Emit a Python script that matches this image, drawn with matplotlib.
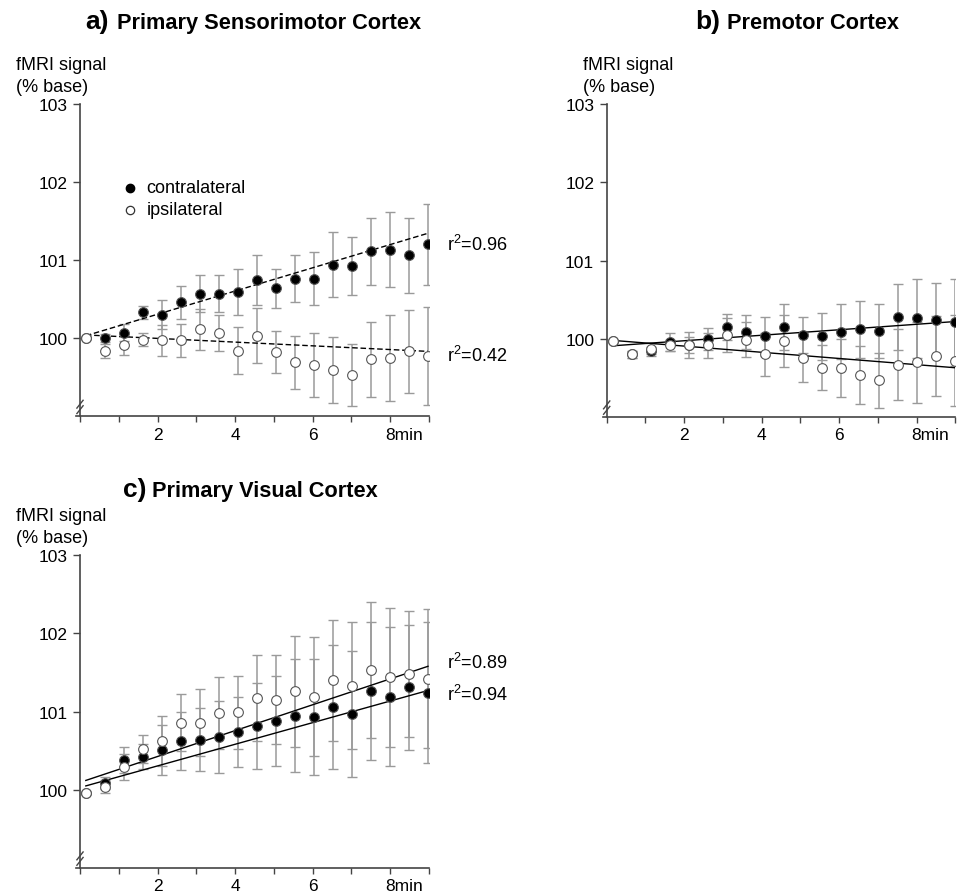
import numpy as np
import matplotlib
matplotlib.use('Agg')
import matplotlib.pyplot as plt
from matplotlib.transforms import ScaledTranslation

plt.rcParams['font.family'] = ['Liberation Sans', 'DejaVu Sans']
plt.rcParams['mathtext.fontset'] = 'custom'
plt.rcParams['mathtext.rm'] = 'Liberation Sans'

# time of each sample (min)
t = [0.15, 0.65, 1.14, 1.63, 2.12, 2.61, 3.10, 3.59, 4.08, 4.57,
     5.06, 5.55, 6.04, 6.53, 7.02, 7.51, 8.00, 8.49, 8.98]

# a) primary sensorimotor cortex
a_contra = [100.00, 100.00, 100.07, 100.33, 100.30, 100.46, 100.57, 100.57, 100.59, 100.74,
            100.64, 100.76, 100.76, 100.94, 100.92, 101.11, 101.13, 101.06, 101.20]
a_contra_err = [0.0, 0.05, 0.11, 0.08, 0.19, 0.21, 0.24, 0.24, 0.29, 0.32,
                0.25, 0.30, 0.34, 0.42, 0.37, 0.43, 0.48, 0.48, 0.52]
a_ipsi = [100.00, 99.84, 99.91, 99.98, 99.97, 99.97, 100.11, 100.06, 99.84, 100.03,
          99.82, 99.69, 99.66, 99.59, 99.53, 99.73, 99.75, 99.83, 99.77]
a_ipsi_err = [0.0, 0.09, 0.12, 0.08, 0.20, 0.21, 0.26, 0.23, 0.30, 0.35,
              0.27, 0.34, 0.41, 0.42, 0.40, 0.48, 0.55, 0.53, 0.63]

# b) premotor cortex
b_contra = [99.97, 99.80, 99.84, 99.96, 99.92, 100.00, 100.15, 100.09, 100.03, 100.15,
            100.05, 100.03, 100.09, 100.12, 100.10, 100.28, 100.26, 100.24, 100.21]
b_contra_err = [0.0, 0.05, 0.06, 0.12, 0.17, 0.14, 0.17, 0.22, 0.25, 0.29,
                0.23, 0.30, 0.35, 0.36, 0.34, 0.42, 0.50, 0.47, 0.56]
b_ipsi = [99.97, 99.80, 99.87, 99.92, 99.92, 99.92, 100.05, 99.99, 99.80, 99.97,
          99.76, 99.63, 99.63, 99.54, 99.47, 99.67, 99.70, 99.78, 99.72]
b_ipsi_err = [0.0, 0.05, 0.07, 0.07, 0.10, 0.16, 0.22, 0.22, 0.27, 0.33,
              0.31, 0.29, 0.37, 0.37, 0.35, 0.45, 0.52, 0.51, 0.58]

# c) primary visual cortex
c_contra = [99.96, 100.09, 100.38, 100.42, 100.51, 100.62, 100.64, 100.67, 100.74, 100.82,
            100.88, 100.95, 100.93, 101.06, 100.97, 101.26, 101.19, 101.31, 101.24]
c_contra_err = [0.0, 0.08, 0.17, 0.16, 0.32, 0.37, 0.40, 0.46, 0.45, 0.55,
                0.58, 0.72, 0.74, 0.79, 0.81, 0.88, 0.89, 0.80, 0.90]
c_ipsi = [99.96, 100.04, 100.29, 100.52, 100.63, 100.86, 100.86, 100.98, 100.99, 101.17,
          101.15, 101.26, 101.19, 101.40, 101.33, 101.53, 101.44, 101.48, 101.42]
c_ipsi_err = [0.0, 0.08, 0.17, 0.18, 0.32, 0.36, 0.43, 0.46, 0.47, 0.55,
              0.57, 0.71, 0.76, 0.77, 0.81, 0.87, 0.89, 0.81, 0.89]

# regression lines (intercept, slope)
a_fit_contra = (100.008, 0.1484)
a_fit_ipsi = (100.044, -0.0238)
b_fit_contra = (99.905, 0.0351)
b_fit_ipsi = (99.986, -0.0396)
c_fit_contra = (100.029, 0.1382)
c_fit_ipsi = (100.095, 0.1653)

a_r2 = [('0.96', 101.20), ('0.42', 99.78)]
c_r2 = [('0.89', 101.64), ('0.94', 101.22)]

x_ticklabels = ['', '', '2', '', '4', '', '6', '', '8min', '']

W, H = 965, 895
fig = plt.figure(figsize=(W / 100, H / 100), dpi=100)

def px(x, y):
    return x / W, 1 - y / H

def panel(x0, y0, contra, contra_err, ipsi, ipsi_err, fits, ls, r2):
    # x0 = pixel x of y-axis, y0 = pixel y of x-axis
    scale_x = 38.75
    scale_y = 78.2
    left = (x0 - 0.1 * scale_x) / W
    width = 9.1 * scale_x / W
    bottom = 1 - y0 / H
    height = 4 * scale_y / H
    ax = fig.add_axes([left, bottom, width, height])
    ax.set_xlim(-0.1, 9.0)
    ax.set_ylim(99, 103)
    for s in ['top', 'right']:
        ax.spines[s].set_visible(False)
    ax.spines['left'].set_position(('data', 0))
    ax.spines['left'].set_bounds(99, 103)
    for s in ['left', 'bottom']:
        ax.spines[s].set_color('#444444')
        ax.spines[s].set_linewidth(1.2)
    ax.set_yticks([100, 101, 102, 103])
    ax.set_yticklabels(['100', '101', '102', '103'])
    ax.set_xticks(range(0, 10))
    ax.set_xticklabels(x_ticklabels)
    ax.tick_params(axis='y', direction='out', length=5, width=1, color='#444444',
                   labelsize=12.5, pad=4)
    ax.tick_params(axis='x', direction='out', length=4, width=1, color='#444444',
                   labelsize=12.5, pad=3.5)
    # "8min": the 8 sits on its tick
    lab = ax.get_xticklabels()[8]
    lab.set_ha('left')
    lab.set_transform(lab.get_transform() + ScaledTranslation(-3.6 / 72, 0, fig.dpi_scale_trans))
    ax.patch.set_visible(False)

    ecol = '#9a9a9a'
    ax.errorbar(t, ipsi, yerr=ipsi_err, fmt='none', ecolor=ecol, elinewidth=1.1,
                capsize=3.8, capthick=1.0, zorder=2)
    ax.errorbar(t, contra, yerr=contra_err, fmt='none', ecolor=ecol, elinewidth=1.1,
                capsize=3.8, capthick=1.0, zorder=2)
    tt = np.array([t[0], t[-1]])
    for b0, b1 in fits:
        ax.plot(tt, b0 + b1 * tt, color='black', lw=1.0, ls=ls, zorder=3)
    ax.plot(t, contra, 'o', ms=7, mfc='black', mec='#555555', mew=0.8, zorder=4)
    ax.plot(t, ipsi, 'o', ms=7, mfc='white', mec='#555555', mew=0.8, zorder=5)

    for val, yv in r2:
        ax.text(9.48, yv, r'$\mathregular{r^2}$=' + val, fontsize=13, ha='left',
                va='center', clip_on=False)

    # axis break
    for dy in [-0.035, 0.035]:
        ax.plot([-0.08, 0.08], [99.07 + dy, 99.17 + dy], color='#444444', lw=1.0,
                clip_on=False, zorder=6)
    return ax

ax_a = panel(80, 417.3, a_contra, a_contra_err, a_ipsi, a_ipsi_err,
             [a_fit_contra, a_fit_ipsi], (0, (4, 2)), a_r2)
ax_b = panel(606.7, 418, b_contra, b_contra_err, b_ipsi, b_ipsi_err,
             [b_fit_contra, b_fit_ipsi], '-', [])
ax_c = panel(80, 869, c_contra, c_contra_err, c_ipsi, c_ipsi_err,
             [c_fit_contra, c_fit_ipsi], '-', c_r2)

# y-axis labels
for x0, dy in [(16, 0), (583, 0), (16, 451)]:
    fig.text(*px(x0, 70 + dy), 'fMRI signal', fontsize=13, va='baseline')
    fig.text(*px(x0, 92 + dy), '(% base)', fontsize=13, va='baseline')

# titles
for xr, xl, yb, letter, name in [(109, 117, 29, 'a)', 'Primary Sensorimotor Cortex'),
                                 (720, 727, 29, 'b)', 'Premotor Cortex'),
                                 (147, 152, 497, 'c)', 'Primary Visual Cortex')]:
    fig.text(*px(xr, yb), letter, fontsize=19, fontweight='bold', ha='right', va='baseline')
    fig.text(*px(xl, yb), name, fontsize=15.7, fontweight='bold', ha='left', va='baseline')

# legend in panel a
ax_a.plot([1.3], [101.92], 'o', ms=6, mfc='black', mec='black', clip_on=False)
ax_a.plot([1.3], [101.64], 'o', ms=6, mfc='white', mec='#333333', mew=0.9, clip_on=False)
ax_a.text(1.72, 101.92, 'contralateral', fontsize=13, va='center')
ax_a.text(1.72, 101.64, 'ipsilateral', fontsize=13, va='center')

fig.savefig('out.png', dpi=100)
